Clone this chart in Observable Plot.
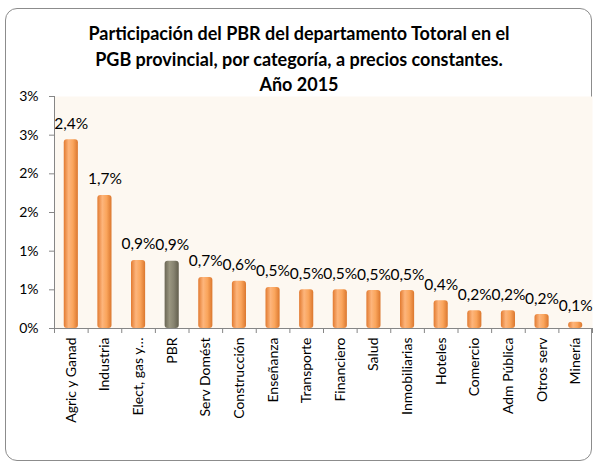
<!DOCTYPE html>
<html>
<head>
<meta charset="utf-8">
<script src="https://cdn.jsdelivr.net/npm/d3@7"></script>
<script src="https://cdn.jsdelivr.net/npm/@observablehq/plot@0.6"></script>
<style>
  html, body { margin: 0; padding: 0; background: #fff; }
  #wrap { position: relative; width: 598px; height: 467px; overflow: hidden; font-family: Lato, "Open Sans", sans-serif; }
  #border { position: absolute; left: 5px; top: 8px; width: 587px; height: 453px; border: 1px solid #8c8c8c; border-radius: 12px; box-sizing: border-box; }
  #title { position: absolute; left: 0; top: 21px; width: 598px; text-align: center; font-weight: bold; font-size: 18px; line-height: 25.5px; color: #000; }
  #chart { position: absolute; left: 0; top: 88px; }
</style>
</head>
<body>
<div id="wrap">
  <div id="border"></div>
  <div id="title">Participación del PBR del departamento Totoral en el<br>PGB provincial, por categoría, a precios constantes.<br>Año 2015</div>
  <div id="chart"></div>
</div>
<script>
const categories = ["Agric y Ganad", "Industria", "Elect, gas y…", "PBR", "Serv Domést", "Construcción", "Enseñanza", "Transporte", "Financiero", "Salud", "Inmobiliarias", "Hoteles", "Comercio", "Adm Pública", "Otros serv", "Minería"];
const values = [2.44, 1.72, 0.88, 0.87, 0.66, 0.61, 0.53, 0.50, 0.50, 0.49, 0.49, 0.36, 0.23, 0.23, 0.18, 0.08];
const yTicks = [0, 0.5, 1, 1.5, 2, 2.5, 3];
const yTickLabels = ["0%", "1%", "1%", "2%", "2%", "3%", "3%"];
const highlight = "PBR";

const data = categories.map((c, i) => ({cat: c, value: values[i]}));

const W = 598, H = 379, mL = 54, mR = 6, mT = 8, mB = 139;
const step = (W - mL - mR) / categories.length;
const axisColor = "#868686";
const tickDown = 5 / (H - mT - mB) * 3;

const chart = Plot.plot({
  width: W, height: H,
  marginLeft: mL, marginRight: mR, marginTop: mT, marginBottom: mB,
  style: {fontFamily: "Lato, 'Open Sans', sans-serif", fontSize: "14px", color: "#000", background: "transparent", overflow: "visible"},
  x: {domain: categories, padding: 0, round: false, axis: null},
  y: {domain: [0, 3], axis: null},
  marks: [
    Plot.frame({fill: "#fdf8f1", stroke: null}),
    Plot.barY(data, {
      x: "cat", y: "value",
      fill: d => d.cat === highlight ? "url(#gradGrey)" : "url(#gradOrange)",
      rx: 3,
      insetLeft: step * 0.29, insetRight: step * 0.29
    }),
    Plot.text(data, {
      x: "cat", y: "value", text: d => d.value.toFixed(1).replace(".", ",") + "%",
      dy: -16, fill: "#000", fontSize: 15.5
    }),
    // x-axis line
    Plot.ruleY([0], {stroke: axisColor}),
    // y-axis line
    Plot.ruleX([categories[0]], {y1: 0, y2: 3, dx: -step / 2, stroke: axisColor}),
    // x boundary ticks
    Plot.ruleX(categories, {y1: 0, y2: -tickDown, dx: -step / 2, stroke: axisColor}),
    Plot.ruleX([categories[categories.length - 1]], {y1: 0, y2: -tickDown, dx: step / 2, stroke: axisColor}),
    // y ticks
    Plot.axisY({ticks: yTicks, tickFormat: d => yTickLabels[yTicks.indexOf(d)], tickSize: 5, tickPadding: 11, stroke: axisColor, fill: "#000", fontSize: 14, label: null}),
    Plot.axisX({tickRotate: -90, tickSize: 0, tickPadding: 9, fill: "#000", fontSize: 14, label: null, textAnchor: "end"})
  ]
});

// gradient definitions for cylinder-like bars
const ns = "http://www.w3.org/2000/svg";
const defs = document.createElementNS(ns, "defs");
function grad(id, stops) {
  const g = document.createElementNS(ns, "linearGradient");
  g.setAttribute("id", id);
  g.setAttribute("x1", "0"); g.setAttribute("x2", "1"); g.setAttribute("y1", "0"); g.setAttribute("y2", "0");
  stops.forEach(([o, c]) => {
    const s = document.createElementNS(ns, "stop");
    s.setAttribute("offset", o); s.setAttribute("stop-color", c);
    g.appendChild(s);
  });
  defs.appendChild(g);
}
grad("gradOrange", [["0", "#e27a30"], ["0.35", "#fdb57c"], ["0.65", "#faa55c"], ["1", "#db772e"]]);
grad("gradGrey", [["0", "#6a6654"], ["0.35", "#9a9680"], ["0.65", "#878370"], ["1", "#625e4d"]]);
chart.insertBefore(defs, chart.firstChild);

document.getElementById("chart").appendChild(chart);
</script>
</body>
</html>
